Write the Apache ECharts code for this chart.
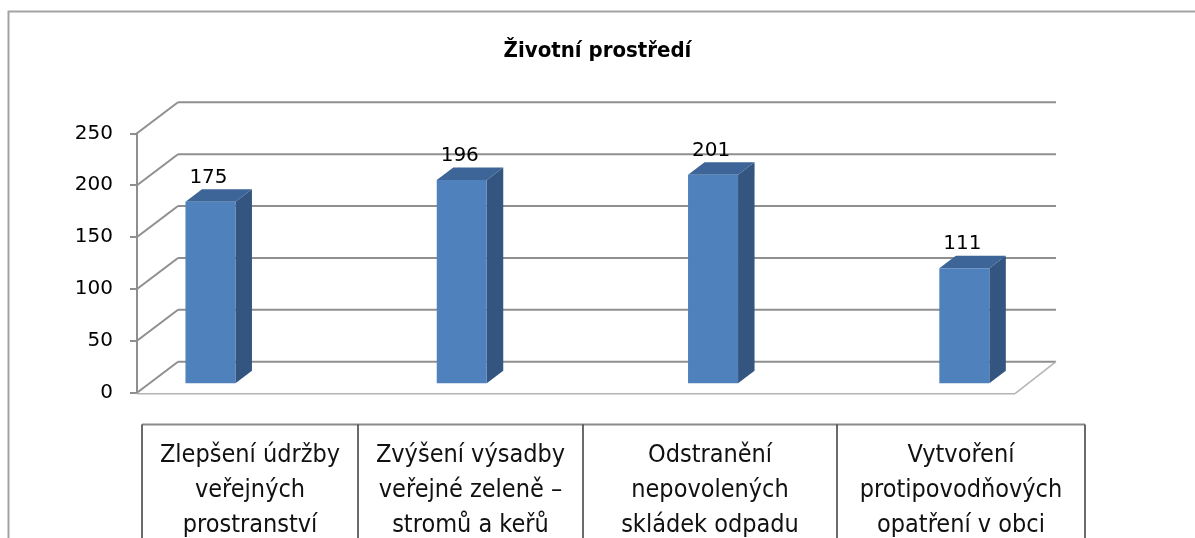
<!DOCTYPE html>
<html>
<head>
<meta charset="utf-8">
<title>Životní prostředí</title>
<script src="https://cdn.jsdelivr.net/npm/echarts@6/dist/echarts.min.js"></script>
<style>
  html, body { margin: 0; padding: 0; background: #fff; }
  #chart { width: 1195px; height: 538px; }
</style>
</head>
<body>
<div id="chart"></div>
<script>
// Data
const categories = [
  'Zlepšení údržby\nveřejných\nprostranství',
  'Zvýšení výsadby\nveřejné zeleně –\nstromů a keřů',
  'Odstranění\nnepovolených\nskládek odpadu',
  'Vytvoření\nprotipovodňových\nopatření v obci'
];
const values = [175, 196, 201, 111];
const yTicks = [0, 50, 100, 150, 200, 250];
const chartTitle = 'Životní prostředí';

// Layout of the pseudo-3D box
const X_MIN = -0.243, X_MAX = 3.251;          // hidden x scale: bar i sits at x = i
const WALL = { dx: 41, dy: -31 };             // front plane -> back wall
const BAR_SHIFT = { dx: 12.4, dy: -9.4 };     // front plane -> front face of the bars
const BAR_HALF = 25;
const BAR_SIDE = { dx: 16.5, dy: -12.5 };
const TABLE_EDGES = [142, 358, 583, 837, 1085];
const TABLE_TOP = 424.5;
const NARROW = "'Liberation Sans Narrow', 'DejaVu Sans Condensed', 'Noto Sans', sans-serif";
const TITLE_FONT = "'DejaVu Sans Condensed', 'Liberation Sans Narrow', sans-serif";

const chart = echarts.init(document.getElementById('chart'), null, { renderer: 'canvas' });

function renderWalls(params, api) {
  const v = api.value(0);
  const a = api.coord([X_MIN, v]);
  const b = api.coord([X_MAX, v]);
  const back = [a[0] + WALL.dx, a[1] + WALL.dy];
  const backEnd = [b[0] + WALL.dx, b[1] + WALL.dy];
  const line = { stroke: '#8f8f8f', lineWidth: 2 };
  const children = [
    { type: 'line', shape: { x1: a[0], y1: a[1], x2: back[0], y2: back[1] }, style: line },
    { type: 'line', shape: { x1: back[0], y1: back[1], x2: backEnd[0], y2: backEnd[1] }, style: line }
  ];
  if (v === 0) {
    const floor = { stroke: '#b4b4b4', lineWidth: 1.5 };
    children.push(
      { type: 'line', shape: { x1: a[0], y1: a[1] + 1, x2: b[0], y2: b[1] + 1 }, style: floor },
      { type: 'line', shape: { x1: b[0], y1: b[1] + 1, x2: backEnd[0], y2: backEnd[1] }, style: floor }
    );
  }
  return { type: 'group', children };
}

function renderBar(params, api) {
  const i = api.value(0);
  const v = api.value(1);
  const t = api.coord([i, v]);
  const z = api.coord([i, 0]);
  const cx = t[0] + BAR_SHIFT.dx;
  const top = t[1] + BAR_SHIFT.dy;
  const bot = z[1] + BAR_SHIFT.dy;
  const l = cx - BAR_HALF, r = cx + BAR_HALF;
  return {
    type: 'group',
    children: [
      { type: 'polygon', shape: { points: [[r, top], [r + BAR_SIDE.dx, top + BAR_SIDE.dy], [r + BAR_SIDE.dx, bot + BAR_SIDE.dy], [r, bot]] },
        style: { fill: '#33557f' } },
      { type: 'polygon', shape: { points: [[l, top], [l + BAR_SIDE.dx, top + BAR_SIDE.dy], [r + BAR_SIDE.dx, top + BAR_SIDE.dy], [r, top]] },
        style: { fill: '#3d6598' } },
      { type: 'rect', shape: { x: l, y: top, width: r - l, height: bot - top },
        style: { fill: '#4f81bd' } },
      { type: 'text', style: { text: String(v), x: cx - 2, y: top - 24, align: 'center', verticalAlign: 'middle',
        fill: '#000', font: "20px 'DejaVu Sans', Verdana, sans-serif" } }
    ]
  };
}

// Data table under the plot
const tableGraphics = [];
tableGraphics.push({ type: 'line', shape: { x1: TABLE_EDGES[0], y1: TABLE_TOP, x2: TABLE_EDGES[TABLE_EDGES.length - 1], y2: TABLE_TOP },
  style: { stroke: '#8a8a8a', lineWidth: 2 } });
TABLE_EDGES.forEach(x => {
  tableGraphics.push({ type: 'line', shape: { x1: x, y1: TABLE_TOP, x2: x, y2: 540 }, style: { stroke: '#3a3a3a', lineWidth: 1.5 } });
});
categories.forEach((c, i) => {
  tableGraphics.push({ type: 'text', x: (TABLE_EDGES[i] + TABLE_EDGES[i + 1]) / 2, y: 490,
    style: { text: c, align: 'center', verticalAlign: 'middle', lineHeight: 35, fill: '#111',
      font: '25px ' + NARROW } });
});
// outer frame
tableGraphics.push({ type: 'polyline', shape: { points: [[8.5, 540], [8.5, 11.5], [1196, 11.5]] },
  style: { stroke: '#a3a3a3', lineWidth: 2, fill: null } });

chart.setOption({
  backgroundColor: '#fff',
  animation: false,
  title: {
    text: chartTitle, left: 'center', top: 35,
    textStyle: { fontSize: 22, fontWeight: 'bold', color: '#000', fontFamily: TITLE_FONT }
  },
  grid: { left: 137, right: 180, top: 133.3, bottom: 145.3 },
  xAxis: { type: 'value', min: X_MIN, max: X_MAX, show: false },
  yAxis: {
    type: 'value', min: 0, max: 250, interval: 50,
    axisLine: { show: true, onZero: false, lineStyle: { color: '#8f8f8f', width: 2 } },
    axisTick: { show: true, length: 7, lineStyle: { color: '#8f8f8f', width: 2 } },
    axisLabel: { fontSize: 20, color: '#000', fontFamily: "'DejaVu Sans', Verdana, sans-serif", margin: 24 },
    splitLine: { show: false }
  },
  series: [
    { type: 'custom', renderItem: renderWalls, data: yTicks.map(v => [v]), z: 1, silent: true },
    { type: 'custom', renderItem: renderBar, data: values.map((v, i) => [i, v]), z: 3, silent: true }
  ],
  graphic: tableGraphics
});
</script>
</body>
</html>
